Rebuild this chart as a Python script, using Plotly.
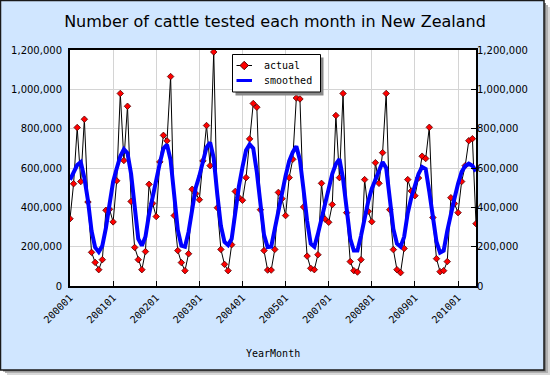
import plotly.graph_objects as go

# ---------------- data ----------------
years = [2000, 2001, 2002, 2003, 2004, 2005, 2007, 2008, 2009]
last_year = 2010
last_year_months = 6
categories = [f"{y}{m:02d}" for y in years for m in range(1, 13)] + \
             [f"{last_year}{m:02d}" for m in range(1, last_year_months + 1)]

tick_labels = ["200001", "200101", "200201", "200301", "200401",
               "200501", "200701", "200801", "200901", "201001"]

series_names = ["actual", "smoothed"]

actual = [
    342000, 520000, 806000, 531000, 848000, 427000, 171000, 120000, 83000, 134000, 385000, 390000,   # 2000
    326000, 535000, 979000, 638000, 914000, 430000, 196000, 134000, 83000, 175000, 517000, 420000,   # 2001
    353000, 631000, 766000, 738000, 1065000, 358000, 180000, 119000, 78000, 164000, 492000, 470000,  # 2002
    439000, 636000, 816000, 612000, 1190000, 398000, 186000, 110000, 78000, 210000, 481000, 450000,  # 2003
    436000, 551000, 748000, 928000, 909000, 388000, 180000, 81000, 81000, 186000, 476000, 444000,    # 2004
    358000, 551000, 644000, 956000, 951000, 402000, 152000, 90000, 83000, 159000, 522000, 340000,    # 2005
    324000, 414000, 867000, 551000, 979000, 373000, 124000, 78000, 71000, 134000, 541000, 380000,    # 2007
    327000, 627000, 522000, 678000, 979000, 388000, 185000, 83000, 68000, 191000, 541000, 483000,    # 2008
    459000, 549000, 660000, 648000, 807000, 348000, 139000, 73000, 78000, 124000, 449000, 419000,    # 2009
    373000, 531000, 612000, 739000, 749000, 317000,                                                  # 2010
]

smoothed = [
    540000, 575000, 615000, 630000, 550000, 435000, 280000, 196000, 173000, 205000, 295000, 415000,  # 2000
    530000, 597000, 660000, 695000, 675000, 570000, 385000, 240000, 205000, 250000, 365000, 460000,  # 2001
    530000, 625000, 699000, 719000, 640000, 455000, 285000, 205000, 200000, 275000, 400000, 500000,  # 2002
    560000, 640000, 705000, 730000, 650000, 465000, 305000, 224000, 208000, 240000, 375000, 505000,  # 2003
    605000, 690000, 720000, 700000, 580000, 405000, 260000, 198000, 200000, 290000, 385000, 475000,  # 2004
    560000, 635000, 680000, 710000, 640000, 490000, 330000, 215000, 200000, 265000, 345000, 427000,  # 2005
    500000, 570000, 620000, 645000, 545000, 380000, 240000, 180000, 180000, 255000, 350000, 430000,  # 2007
    495000, 540000, 585000, 630000, 600000, 430000, 290000, 215000, 200000, 250000, 370000, 450000,  # 2008
    510000, 570000, 605000, 595000, 480000, 350000, 225000, 170000, 180000, 280000, 370000, 445000,  # 2009
    520000, 580000, 610000, 622000, 612000, 583000,                                                  # 2010
]

y_ticks = [0, 200000, 400000, 600000, 800000, 1000000, 1200000]

# ---------------- geometry helpers ----------------
W, H = 550, 375
L, R, T, B = 70, 74, 50, 89
PW, PH = W - L - R, H - T - B


def px(x):
    return (x - L) / PW


def py(y):
    return (H - B - y) / PH


RED, BLUE = "#ff0000", "#0000ff"

fig = go.Figure()

fig.add_trace(go.Scatter(
    x=categories, y=actual, name=series_names[0], mode="lines+markers",
    line=dict(color="black", width=1),
    marker=dict(symbol="diamond", size=5, color=RED,
                line=dict(color="#500000", width=0.8)),
    showlegend=False,
))
fig.add_trace(go.Scatter(
    x=categories, y=smoothed, name=series_names[1], mode="lines",
    line=dict(color=BLUE, width=4),
    showlegend=False,
))
# invisible trace for the right-hand axis
fig.add_trace(go.Scatter(
    x=categories, y=actual, yaxis="y2", mode="lines",
    line=dict(color="rgba(0,0,0,0)"), showlegend=False, hoverinfo="skip",
))


def rect(x0, y0, x1, y1, fill, line=None, layer="below"):
    return dict(type="rect", xref="paper", yref="paper", layer=layer,
                x0=px(x0), x1=px(x1), y0=py(y1), y1=py(y0),
                fillcolor=fill, line=line or dict(width=0))


shapes = [
    # soft frame shadow
    rect(7, 7, 550, 375, "#d8d8d8"),
    rect(5, 5, 548, 373, "#b0b0b0"),
    rect(3, 3, 546, 371.5, "#808080"),
    # frame
    rect(0.5, 0.5, 544, 370, "#d0e6ff", dict(color="#1a1a1a", width=1.5)),
    # plot area
    dict(type="rect", xref="paper", yref="paper", layer="below",
         x0=0, x1=1, y0=0, y1=1, fillcolor="white", line=dict(width=0)),
    # legend: shadow and box
    rect(235.5, 57.5, 323.5, 95.5, "#8a8a8a", layer="above"),
    rect(232.5, 54.5, 320.5, 92, "white", dict(color="black", width=1), layer="above"),
    # legend symbol: actual (line + diamond)
    dict(type="line", xref="paper", yref="paper", layer="above",
         x0=px(236.5), x1=px(252), y0=py(65.5), y1=py(65.5),
         line=dict(color="black", width=1)),
    dict(type="path", xref="paper", yref="paper", layer="above",
         path=(f"M {px(244.2)},{py(61.3)} L {px(248.4)},{py(65.5)} "
               f"L {px(244.2)},{py(69.7)} L {px(240)},{py(65.5)} Z"),
         fillcolor=RED, line=dict(color="#500000", width=1)),
    # legend symbol: smoothed (thick blue line)
    dict(type="line", xref="paper", yref="paper", layer="above",
         x0=px(236.5), x1=px(252), y0=py(80.5), y1=py(80.5),
         line=dict(color=BLUE, width=3)),
]

legend_font = dict(family="DejaVu Sans Mono", size=10, color="black")

fig.update_layout(
    width=W, height=H,
    margin=dict(l=L, r=R, t=T, b=B, pad=0),
    paper_bgcolor="white",
    plot_bgcolor="white",
    shapes=shapes,
    title=dict(text="Number of cattle tested each month in New Zealand",
               x=0.5, xref="container", xanchor="center",
               y=1 - 21 / H, yref="container", yanchor="middle",
               font=dict(family="DejaVu Sans", size=16, color="black")),
    xaxis=dict(
        type="category", categoryorder="array", categoryarray=categories,
        range=[0, len(categories) - 1],
        tickmode="array", tickvals=tick_labels, ticktext=tick_labels,
        tickangle=-45, ticks="inside", ticklen=5, tickcolor="black",
        tickfont=dict(family="DejaVu Sans Mono", size=10, color="black"),
        showgrid=True, gridcolor="#d4d4d4", gridwidth=1,
        showline=True, linecolor="black", linewidth=2, mirror=True,
        zeroline=False,
    ),
    yaxis=dict(
        range=[0, 1200000], tickmode="array", tickvals=y_ticks,
        tickformat=",d", ticks="", ticklabelstandoff=4,
        tickfont=dict(family="DejaVu Sans", size=10, color="black"),
        showgrid=True, gridcolor="#d4d4d4", gridwidth=1,
        showline=True, linecolor="black", linewidth=2, mirror=True,
        zeroline=False,
    ),
    yaxis2=dict(
        overlaying="y", side="right",
        range=[0, 1200000], tickmode="array", tickvals=y_ticks,
        tickformat=",d", ticks="inside", ticklen=5, tickcolor="black",
        tickfont=dict(family="DejaVu Sans", size=10, color="black"),
        showgrid=False, zeroline=False, showline=False,
    ),
    annotations=[
        dict(text="YearMonth", xref="paper", yref="paper",
             x=px(273), y=py(353), xanchor="center", yanchor="middle",
             showarrow=False,
             font=dict(family="DejaVu Sans Mono", size=10, color="black")),
        dict(text=series_names[0], xref="paper", yref="paper",
             x=px(262), y=py(65.5), xanchor="left", yanchor="middle",
             showarrow=False, font=legend_font),
        dict(text=series_names[1], xref="paper", yref="paper",
             x=px(262), y=py(80.5), xanchor="left", yanchor="middle",
             showarrow=False, font=legend_font),
    ],
    showlegend=False,
)

fig.write_html("out.html",
               config={"displayModeBar": False},
               post_script="document.body.style.margin='0';document.body.style.padding='0';")
